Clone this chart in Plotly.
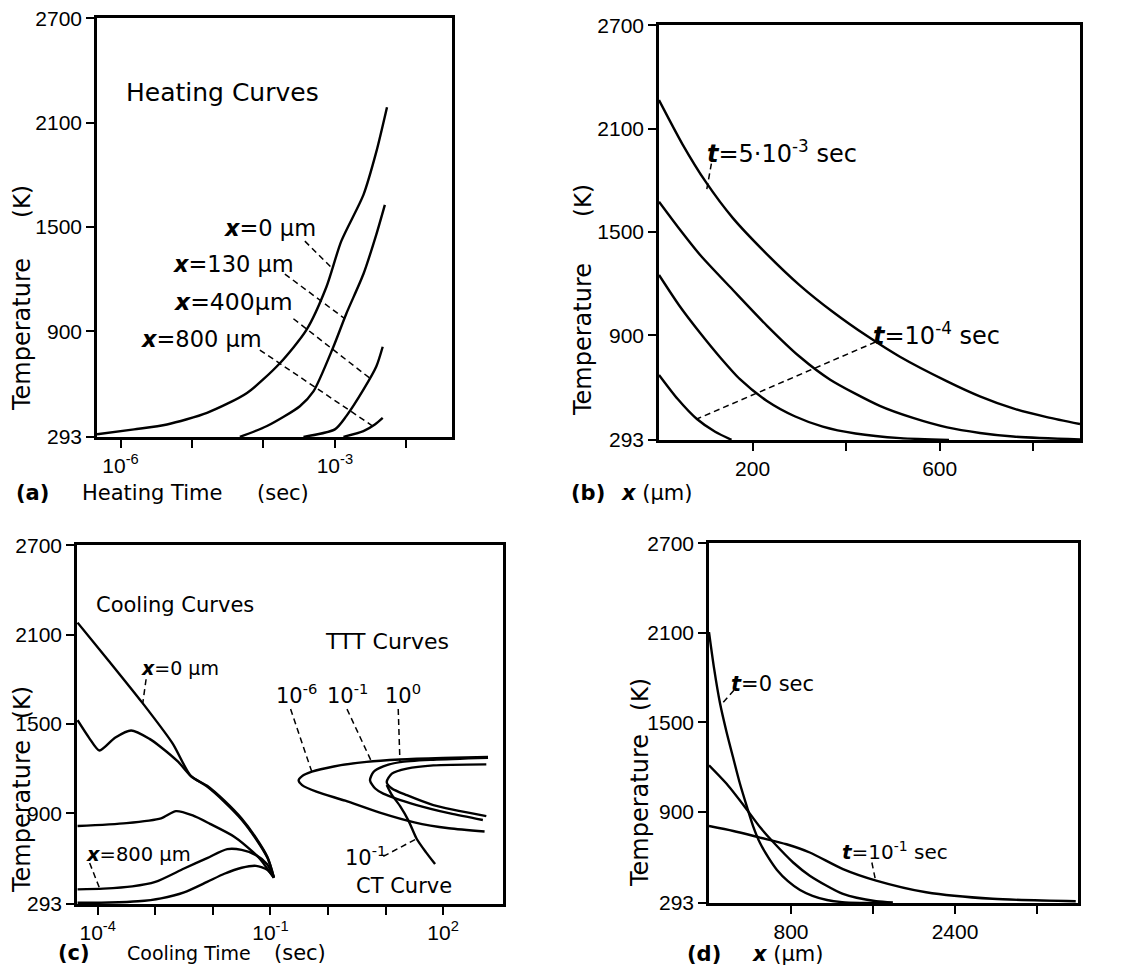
import numpy as np
import plotly.graph_objects as go

# ---------------- (a) heating curves: log10(t / s) vs T (K) ----------------
heat_x0_logt = [-6.33, -5.81, -5.35, -4.79, -4.23, -3.77, -3.40, -3.12, -2.91, -2.60, -2.42, -2.27]
heat_x0_T = [308, 336, 364, 431, 545, 716, 906, 1153, 1418, 1684, 1931, 2188]
heat_x130_logt = [-4.33, -3.95, -3.49, -3.30, -3.02, -2.84, -2.60, -2.42, -2.30]
heat_x130_T = [293, 355, 469, 554, 811, 1001, 1229, 1456, 1627]
heat_x400_logt = [-3.44, -3.00, -2.84, -2.60, -2.42, -2.33]
heat_x400_T = [293, 336, 412, 564, 697, 811]
heat_x800_logt = [-2.88, -2.60, -2.44, -2.33]
heat_x800_T = [293, 326, 364, 402]

# ---------------- (b) profiles during heating: x (um) vs T (K) ----------------
prof_b1_x = [0, 50, 100, 158, 231, 301, 372, 445, 515, 616, 686, 757, 829, 900]
prof_b1_T = [2265, 2010, 1790, 1580, 1370, 1190, 1035, 895, 775, 632, 545, 475, 425, 385]
prof_b2_x = [0, 40, 88, 158, 231, 301, 366, 472, 543, 616, 686, 757, 900]
prof_b2_T = [1675, 1530, 1366, 1163, 955, 775, 642, 490, 420, 365, 333, 312, 295]
prof_b3_x = [0, 44, 88, 130, 173, 230, 290, 350, 420, 516, 620]
prof_b3_T = [1250, 1070, 913, 774, 645, 520, 430, 370, 330, 303, 293]
prof_b4_x = [0, 40, 81, 120, 155]
prof_b4_T = [670, 530, 414, 340, 293]

# ---------------- (c) cooling curves and TTT / CT curves ----------------
cool_1_logt = [-4.35, -3.80, -3.22, -2.70, -2.38, -2.10, -1.80, -1.50, -1.25, -1.05, -0.94]
cool_1_T = [2180, 1920, 1640, 1370, 1150, 1085, 985, 865, 735, 605, 470]
cool_2_logt = [-4.35, -4.15, -3.97, -3.70, -3.42, -3.10, -2.90, -2.60, -2.38, -2.10, -1.80, -1.50, -1.25, -1.05, -0.94]
cool_2_T = [1525, 1407, 1322, 1407, 1456, 1400, 1344, 1245, 1150, 1080, 978, 858, 728, 600, 470]
cool_3_logt = [-4.35, -3.50, -2.90, -2.64, -2.35, -2.05, -1.63, -1.30, -1.17, -0.94]
cool_3_T = [815, 835, 867, 915, 886, 830, 744, 640, 589, 467]
cool_4_logt = [-4.35, -3.90, -3.40, -3.00, -2.50, -2.10, -1.75, -1.50, -1.25, -1.06, -0.94]
cool_4_T = [390, 395, 410, 440, 530, 600, 660, 655, 620, 560, 470]
cool_5_logt = [-4.35, -3.80, -3.30, -2.90, -2.50, -2.10, -1.80, -1.50, -1.25, -1.05, -0.94]
cool_5_T = [300, 302, 310, 330, 370, 440, 495, 535, 548, 520, 470]

ttt_m6_logt = [2.78, 2.00, 1.25, 0.67, 0.10, -0.28, -0.45, -0.51, -0.45, -0.19, 0.30, 0.90, 1.50, 2.10, 2.72]
ttt_m6_T = [1278, 1272, 1262, 1246, 1215, 1180, 1150, 1122, 1090, 1044, 985, 905, 840, 800, 778]
ttt_m1_logt = [2.78, 1.83, 1.25, 0.96, 0.79, 0.73, 0.82, 0.96, 1.54, 2.12, 2.69]
ttt_m1_T = [1273, 1260, 1244, 1215, 1178, 1122, 1067, 1033, 956, 900, 856]
ttt_0_logt = [2.75, 1.83, 1.37, 1.11, 1.02, 1.11, 1.37, 1.83, 2.75]
ttt_0_T = [1229, 1222, 1200, 1167, 1111, 1067, 1022, 956, 882]
ct_logt = [1.02, 1.10, 1.25, 1.40, 1.54, 1.70, 1.86]
ct_T = [1090, 1030, 950, 850, 730, 640, 560]

# ---------------- (d) profiles during cooling: x (um) vs T (K) ----------------
cprof_t0_x = [0, 50, 107, 170, 234, 300, 371, 430, 498, 580, 663, 770, 888, 1010, 1151, 1300, 1473, 1700]
cprof_t0_T = [2105, 1860, 1630, 1440, 1269, 1095, 934, 807, 693, 595, 513, 438, 379, 340, 312, 298, 293, 292]
cprof_mid_x = [0, 172, 350, 497, 626, 821, 983, 1307, 1631, 1794]
cprof_mid_T = [1214, 1090, 935, 800, 700, 563, 475, 353, 304, 296]
cprof_t01_x = [0, 237, 497, 756, 983, 1307, 1631, 2118, 2767, 3578]
cprof_t01_T = [807, 774, 730, 685, 630, 519, 442, 364, 320, 304]

# tick values / labels
temp_ticks = [293, 900, 1500, 2100, 2700]
temp_labels = ["293", "900", "1500", "2100", "2700"]
heat_ticks = [1e-6, 1e-5, 1e-4, 1e-3, 1e-2]
heat_labels = ["10<sup>-6</sup>", "", "", "10<sup>-3</sup>", ""]
xb_ticks = [200, 400, 600, 800]
xb_labels = ["200", "", "600", ""]
cool_ticks = [1e-4, 1e-3, 1e-2, 1e-1, 1e0, 1e1, 1e2]
cool_labels = ["10<sup>-4</sup>", "", "", "10<sup>-1</sup>", "", "", "10<sup>2</sup>"]
xd_ticks = [800, 1600, 2400, 3200]
xd_labels = ["800", "", "2400", ""]

W, H = 1125, 969
TXT = "DejaVu Sans"
NUM = "Liberation Sans"


def dom_x(a, b):
    return [a / W, b / W]


def dom_y(top, bottom):
    return [1 - bottom / H, 1 - top / H]


fig = go.Figure()


def curve(xs, ys, ax, log=False, width=2.4):
    xv = np.power(10.0, xs) if log else np.asarray(xs, float)
    fig.add_trace(go.Scatter(
        x=xv, y=ys, mode="lines", xaxis="x" + ax, yaxis="y" + ax,
        line=dict(color="black", width=width, shape="spline", smoothing=0.7),
        hoverinfo="skip", showlegend=False))


def leader(xs, ys, ax, log=False):
    xv = np.power(10.0, xs) if log else np.asarray(xs, float)
    fig.add_trace(go.Scatter(
        x=xv, y=ys, mode="lines", xaxis="x" + ax, yaxis="y" + ax,
        line=dict(color="black", width=1.5, dash="6px,4px"),
        hoverinfo="skip", showlegend=False))


# (a)
for lx, ly in [(heat_x0_logt, heat_x0_T), (heat_x130_logt, heat_x130_T),
               (heat_x400_logt, heat_x400_T), (heat_x800_logt, heat_x800_T)]:
    curve(lx, ly, "", log=True)
leader([-3.42, -3.05], [1418, 1267], "", log=True)
leader([-3.70, -2.86], [1229, 972], "", log=True)
leader([-3.58, -2.51], [972, 630], "", log=True)
leader([-4.05, -2.47], [792, 355], "", log=True)

# (b)
for px, py in [(prof_b1_x, prof_b1_T), (prof_b2_x, prof_b2_T),
               (prof_b3_x, prof_b3_T), (prof_b4_x, prof_b4_T)]:
    curve(px, py, "2")
leader([112, 102], [1897, 1745], "2")
leader([463, 81], [861, 414], "2")

# (c)
for lx, ly in [(cool_1_logt, cool_1_T), (cool_2_logt, cool_2_T), (cool_3_logt, cool_3_T),
               (cool_4_logt, cool_4_T), (cool_5_logt, cool_5_T),
               (ttt_m6_logt, ttt_m6_T), (ttt_m1_logt, ttt_m1_T), (ttt_0_logt, ttt_0_T),
               (ct_logt, ct_T)]:
    curve(lx, ly, "3", log=True)
leader([-3.16, -3.22], [1800, 1633], "3", log=True)
leader([-4.14, -3.97], [567, 400], "3", log=True)
leader([-0.65, -0.28], [1600, 1178], "3", log=True)
leader([0.33, 0.76], [1600, 1244], "3", log=True)
leader([1.22, 1.25], [1600, 1244], "3", log=True)
leader([0.96, 1.54], [611, 730], "3", log=True)

# (d)
for px, py in [(cprof_t0_x, cprof_t0_T), (cprof_mid_x, cprof_mid_T), (cprof_t01_x, cprof_t01_T)]:
    curve(px, py, "4")
leader([243, 114], [1715, 1615], "4")
leader([1589, 1622], [563, 453], "4")

# axes
axis_common = dict(showline=True, linecolor="black", linewidth=2.5, mirror=True,
                   ticks="outside", ticklen=8, tickwidth=2, tickcolor="black",
                   showgrid=False, zeroline=False, automargin=False,
                   tickfont=dict(family=NUM, size=21, color="black"))


def yaxis(top, bottom, anchor):
    return dict(axis_common, domain=dom_y(top, bottom), anchor=anchor,
                range=[292, 2701], tickmode="array", tickvals=temp_ticks, ticktext=temp_labels)


fig.update_layout(
    width=W, height=H, margin=dict(l=0, r=0, t=0, b=0, autoexpand=False),
    paper_bgcolor="white", plot_bgcolor="white",
    xaxis=dict(axis_common, type="log", domain=dom_x(97, 452), anchor="y",
               range=[-6.33, -1.36], tickmode="array", tickvals=heat_ticks, ticktext=heat_labels),
    yaxis=yaxis(18, 437, "x"),
    xaxis2=dict(axis_common, domain=dom_x(659, 1080), anchor="y2",
                range=[0, 900], tickmode="array", tickvals=xb_ticks, ticktext=xb_labels),
    yaxis2=yaxis(25, 440, "x2"),
    xaxis3=dict(axis_common, type="log", domain=dom_x(77, 503), anchor="y3",
                range=[-4.36, 3.04], tickmode="array", tickvals=cool_ticks, ticktext=cool_labels),
    yaxis3=yaxis(545, 904, "x3"),
    xaxis4=dict(axis_common, domain=dom_x(709, 1078), anchor="y4",
                range=[0, 3600], tickmode="array", tickvals=xd_ticks, ticktext=xd_labels),
    yaxis4=yaxis(543, 903, "x4"),
)

ann = []


def label(text, x, y, ax, xanchor="left", size=21, angle=0):
    ref_x = "paper" if ax is None else "x" + ax
    ref_y = "paper" if ax is None else "y" + ax
    ann.append(dict(text=text, x=x, y=y, xref=ref_x, yref=ref_y, showarrow=False,
                    xanchor=xanchor, yanchor="middle", textangle=angle,
                    font=dict(family=TXT, size=size, color="black")))


# in-plot labels
label("Heating Curves", -5.95, 2273, "", size=25)
label("<b><i>x</i></b>=0 µm", -4.58, 1494, "", size=22.5)
label("<b><i>x</i></b>=130 µm", -5.30, 1286, "", size=22.5)
label("<b><i>x</i></b>=400µm", -5.28, 1067, "", size=23.5)
label("<b><i>x</i></b>=800 µm", -5.74, 858, "", size=22.5)

label("<b><i>t</i></b>=5·10<sup>-3</sup> sec", 98, 1965, "2", size=24)
label("<b><i>t</i></b>=10<sup>-4</sup> sec", 453, 910, "2", size=24)

label("Cooling Curves", -4.06, 2300, "3", size=21)
label("TTT Curves", -0.08, 2055, "3", size=22)
label("<b><i>x</i></b>=0 µm", -3.28, 1878, "3", size=19)
label("<b><i>x</i></b>=800 µm", -4.23, 622, "3", size=19.5)
label("10<sup>-6</sup>", -0.54, 1700, "3", xanchor="center")
label("10<sup>-1</sup>", 0.34, 1700, "3", xanchor="center")
label("10<sup>0</sup>", 1.30, 1700, "3", xanchor="center")
label("10<sup>-1</sup>", 0.65, 611, "3", xanchor="center")
label("CT Curve", 1.32, 411, "3", xanchor="center")

label("<b><i>t</i></b>=0 sec", 195, 1759, "4", size=21)
label("<b><i>t</i></b>=10<sup>-1</sup> sec", 1275, 641, "4", size=20)

# rotated temperature titles: "(K)" above the 1500 tick, "Temperature" below it
for cx, k_y, t_y in ((22, 202, 335), (583, 201, 340), (22, 703, 817), (640, 695, 811)):
    label("(K)", cx / W, 1 - k_y / H, None, xanchor="center", size=23, angle=-90)
    label("Temperature", cx / W, 1 - t_y / H, None, xanchor="center", size=24, angle=-90)

label("<b>(a)</b>", 32 / W, 1 - 493 / H, None, xanchor="center")
label("Heating Time", 152 / W, 1 - 493 / H, None, xanchor="center")
label("(sec)", 283 / W, 1 - 493 / H, None, xanchor="center")
label("<b>(b)</b>", 588 / W, 1 - 493 / H, None, xanchor="center")
label("<b><i>x</i></b> (µm)", 656 / W, 1 - 493 / H, None, xanchor="center")
label("<b>(c)</b>", 74 / W, 1 - 953 / H, None, xanchor="center")
label("Cooling Time", 189 / W, 1 - 953 / H, None, xanchor="center", size=19)
label("(sec)", 300 / W, 1 - 953 / H, None, xanchor="center")
label("<b>(d)</b>", 704 / W, 1 - 954 / H, None, xanchor="center")
label("<b><i>x</i></b> (µm)", 787 / W, 1 - 954 / H, None, xanchor="center")

fig.update_layout(annotations=ann)
fig.write_html("out.html")
